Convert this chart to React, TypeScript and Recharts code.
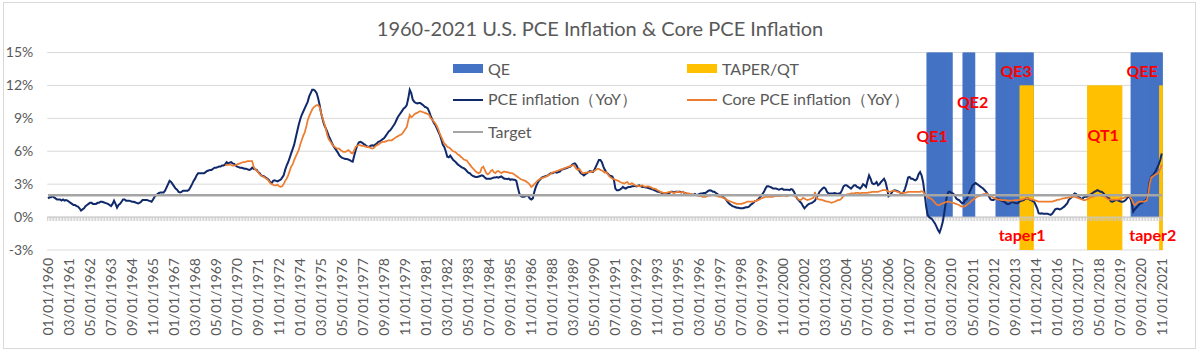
import React from "react";
import {
  ComposedChart,
  Bar,
  Line,
  XAxis,
  YAxis,
  CartesianGrid,
  ReferenceLine,
  ReferenceDot,
} from "recharts";

const FONT = "Lato, 'Liberation Sans', sans-serif";
const TEXT = "#595959";

const START_YEAR = 1960;

// PCE inflation (YoY, %), monthly from 01/1960, one array per decade
const pce1960s = [
  1.7, 1.8, 1.8, 1.9, 1.8, 1.7, 1.6, 1.6, 1.6, 1.5, 1.6, 1.5,
  1.55, 1.5, 1.4, 1.3, 1.2, 1.1, 1.1, 1.0, 0.95, 0.8, 0.6, 0.7,
  0.8, 1.0, 1.1, 1.2, 1.3, 1.3, 1.2, 1.2, 1.2, 1.3, 1.3, 1.4,
  1.4, 1.35, 1.3, 1.25, 1.2, 1.1, 1.0, 1.2, 1.5, 1.2, 0.85, 1.1,
  1.2, 1.4, 1.6, 1.6, 1.5, 1.5, 1.5, 1.45, 1.4, 1.4, 1.35, 1.3,
  1.25, 1.3, 1.4, 1.55, 1.55, 1.55, 1.55, 1.5, 1.45, 1.4, 1.6, 1.85,
  2.0, 2.1, 2.2, 2.25, 2.25, 2.25, 2.4, 2.7, 3.0, 3.3, 3.2, 3.0,
  2.8, 2.6, 2.5, 2.3, 2.25, 2.3, 2.4, 2.4, 2.4, 2.4, 2.5, 2.75,
  3.0, 3.3, 3.5, 3.8, 4.0, 4.0, 4.0, 4.0, 4.0, 4.1, 4.2, 4.25,
  4.3, 4.3, 4.4, 4.5, 4.5, 4.55, 4.6, 4.6, 4.7, 4.7, 4.8, 5.0,
];
const pce1970s = [
  4.9, 4.95, 5.0, 4.9, 4.85, 4.7, 4.6, 4.55, 4.5, 4.5, 4.45, 4.4,
  4.4, 4.35, 4.3, 4.35, 4.5, 4.4, 4.35, 4.3, 4.1, 4.0, 3.8, 3.75,
  3.7, 3.6, 3.5, 3.4, 3.2, 3.1, 3.3, 3.35, 3.3, 3.25, 3.35, 3.4,
  3.6, 3.8, 4.3, 4.7, 5.0, 5.4, 5.8, 6.2, 6.6, 7.2, 7.8, 8.4,
  8.9, 9.3, 9.6, 9.9, 10.2, 10.5, 11.0, 11.3, 11.6, 11.6, 11.5, 11.3,
  10.8, 10.2, 9.45, 8.9, 8.4, 8.1, 7.8, 7.4, 7.1, 6.8, 6.5, 6.3,
  6.1, 5.9, 5.65, 5.5, 5.4, 5.35, 5.3, 5.3, 5.25, 5.2, 5.1, 5.05,
  5.6, 6.1, 6.5, 6.8, 6.85, 6.8, 6.7, 6.6, 6.5, 6.4, 6.4, 6.5,
  6.55, 6.5, 6.6, 6.7, 6.85, 6.9, 7.0, 7.1, 7.2, 7.4, 7.6, 7.8,
  7.9, 8.1, 8.3, 8.5, 8.8, 9.1, 9.3, 9.5, 9.7, 9.9, 10.0, 10.2,
];
const pce1980s = [
  10.8, 11.6, 11.3, 10.7, 10.5, 10.4, 10.35, 10.4, 10.4, 10.3, 10.2, 10.05,
  10.0, 9.9, 9.6, 9.2, 8.9, 8.6, 8.4, 8.1, 7.8, 7.5, 7.1, 6.6,
  6.4, 6.0, 5.5, 5.45, 5.6, 5.4, 5.2, 5.1, 4.95, 4.8, 4.7, 4.6,
  4.5, 4.45, 4.35, 4.2, 4.05, 4.0, 3.85, 3.75, 3.7, 3.65, 3.65, 3.7,
  3.75, 3.8, 3.75, 3.6, 3.5, 3.5, 3.5, 3.5, 3.55, 3.6, 3.6, 3.65,
  3.6, 3.65, 3.7, 3.6, 3.5, 3.5, 3.45, 3.5, 3.4, 3.45, 3.4, 3.4,
  3.3, 2.7, 2.15, 1.9, 1.85, 1.85, 1.9, 2.0, 1.9, 1.7, 1.6, 1.7,
  2.3, 2.75, 3.05, 3.3, 3.45, 3.6, 3.65, 3.7, 3.75, 3.8, 3.9, 4.0,
  4.0, 4.05, 4.1, 4.05, 4.1, 4.15, 4.3, 4.35, 4.4, 4.45, 4.5, 4.55,
  4.6, 4.75, 4.85, 4.9, 4.75, 4.45, 4.2, 4.0, 3.9, 3.8, 3.9, 4.0,
];
const pce1990s = [
  4.1, 4.2, 4.15, 4.1, 4.3, 4.6, 4.9, 5.2, 5.2, 5.0, 4.6, 4.3,
  4.1, 3.95, 3.8, 3.75, 3.7, 3.4, 2.6, 2.45, 2.45, 2.5, 2.6, 2.75,
  2.65, 2.6, 2.7, 2.75, 2.75, 2.8, 2.8, 2.85, 2.8, 2.85, 2.9, 2.8,
  2.75, 2.75, 2.7, 2.7, 2.65, 2.6, 2.55, 2.5, 2.45, 2.4, 2.3, 2.3,
  2.25, 2.2, 2.1, 2.05, 2.1, 2.15, 2.2, 2.3, 2.3, 2.25, 2.3, 2.3,
  2.3, 2.3, 2.25, 2.3, 2.2, 2.15, 2.1, 2.05, 2.0, 2.05, 2.0, 2.1,
  2.0, 2.05, 2.1, 2.15, 2.15, 2.2, 2.2, 2.3, 2.4, 2.45, 2.4, 2.3,
  2.3, 2.2, 2.1, 2.0, 2.0, 1.95, 1.8, 1.7, 1.55, 1.35, 1.2, 1.1,
  1.0, 0.95, 0.9, 0.85, 0.85, 0.8, 0.8, 0.8, 0.85, 0.9, 0.9, 0.95,
  1.1, 1.2, 1.3, 1.45, 1.5, 1.6, 1.75, 1.9, 2.1, 2.3, 2.6, 2.8,
];
const pce2000s = [
  2.8, 2.75, 2.7, 2.6, 2.6, 2.6, 2.55, 2.5, 2.55, 2.6, 2.5, 2.5,
  2.5, 2.5, 2.45, 2.55, 2.5, 2.3, 2.0, 1.7, 1.55, 1.4, 1.25, 1.0,
  0.8, 0.95, 1.1, 1.2, 1.25, 1.3, 1.4, 1.5, 1.8, 2.0, 2.3, 2.45,
  2.6, 2.7, 2.6, 2.3, 2.15, 2.15, 2.15, 2.15, 2.2, 2.15, 2.1, 2.15,
  2.2, 2.45, 2.8, 2.9, 2.9, 2.8, 2.7, 2.6, 2.75, 2.9, 2.9, 2.75,
  2.7, 2.6, 2.75, 3.0, 2.9, 2.75, 3.3, 3.8, 3.5, 3.1, 3.0, 3.05,
  3.2, 2.9, 3.0, 3.2, 3.35, 3.5, 3.2, 2.6, 1.9, 2.0, 2.2, 2.4,
  2.45, 2.4, 2.35, 2.3, 2.2, 2.15, 2.3, 2.6, 3.05, 3.6, 3.65, 3.5,
  3.5, 3.4, 3.35, 3.5, 3.9, 4.1, 3.8, 3.2, 2.15, 1.0, 0.2, 0.0,
  -0.1, -0.2, -0.4, -0.6, -0.9, -1.2, -1.4, -1.0, -0.5, 0.3, 1.2, 2.0,
];
const pce2010s = [
  2.3, 2.3, 2.2, 2.15, 2.0, 1.7, 1.6, 1.55, 1.4, 1.25, 1.3, 1.55,
  1.6, 1.9, 2.3, 2.6, 2.9, 3.0, 3.1, 3.0, 2.9, 2.8, 2.7, 2.6,
  2.45, 2.3, 2.1, 1.85, 1.6, 1.55, 1.55, 1.7, 1.7, 1.65, 1.6, 1.5,
  1.45, 1.4, 1.3, 1.2, 1.2, 1.25, 1.4, 1.35, 1.3, 1.25, 1.25, 1.4,
  1.45, 1.5, 1.55, 1.65, 1.7, 1.7, 1.6, 1.55, 1.45, 1.4, 1.1, 0.8,
  0.35, 0.3, 0.35, 0.3, 0.3, 0.3, 0.3, 0.25, 0.2, 0.3, 0.5, 0.7,
  0.75, 0.75, 0.7, 0.75, 0.85, 0.95, 1.1, 1.25, 1.55, 1.7, 1.8, 2.0,
  2.15, 2.1, 1.9, 1.8, 1.7, 1.65, 1.8, 1.85, 1.85, 1.95, 2.0, 2.1,
  2.2, 2.3, 2.35, 2.45, 2.4, 2.3, 2.3, 2.2, 2.05, 1.9, 1.75, 1.7,
  1.45, 1.4, 1.45, 1.55, 1.55, 1.5, 1.45, 1.4, 1.4, 1.45, 1.55, 1.75,
];
const pce2020s = [
  1.85, 1.75, 1.3, 0.5, 0.7, 0.85, 1.0, 1.15, 1.25, 1.3, 1.45, 1.5,
  1.6, 2.3, 3.2, 3.7, 3.8, 4.0, 4.2, 4.5, 4.8, 5.2, 5.8,
];

// Core PCE inflation (YoY, %), monthly from 11/1969
const CORE_START = "11/01/1969";
const core1960s = [4.7, 4.75];
const core1970s = [
  4.75, 4.8, 4.75, 4.7, 4.7, 4.75, 4.8, 4.85, 4.9, 4.95, 5.0, 5.0,
  5.05, 5.1, 5.1, 5.1, 5.1, 4.6, 4.35, 4.25, 4.1, 3.9, 3.8, 3.7,
  3.65, 3.55, 3.45, 3.3, 3.1, 3.0, 2.95, 2.9, 2.9, 2.95, 2.8, 2.75,
  2.8, 3.0, 3.3, 3.5, 3.8, 4.2, 4.6, 4.8, 5.2, 5.5, 5.8, 6.1,
  6.6, 7.0, 7.4, 7.7, 8.2, 8.8, 9.2, 9.5, 9.8, 10.0, 10.1, 10.2,
  10.2, 10.0, 9.45, 9.0, 8.55, 8.1, 7.5, 7.1, 6.9, 6.7, 6.5, 6.4,
  6.3, 6.25, 6.25, 6.1, 6.0, 5.95, 5.95, 6.0, 6.1, 6.0, 5.85, 5.8,
  6.1, 6.4, 6.5, 6.55, 6.55, 6.5, 6.5, 6.45, 6.4, 6.4, 6.35, 6.3,
  6.25, 6.3, 6.45, 6.55, 6.6, 6.7, 6.8, 6.85, 6.85, 6.9, 6.95, 7.0,
  7.0, 7.0, 7.1, 7.2, 7.3, 7.35, 7.45, 7.5, 7.6, 7.8, 8.0, 8.2,
];
const core1980s = [
  8.8, 9.3, 9.1, 9.2, 9.35, 9.45, 9.5, 9.6, 9.65, 9.6, 9.55, 9.5,
  9.45, 9.4, 9.3, 9.0, 8.9, 8.7, 8.55, 8.3, 8.0, 7.6, 7.3, 7.0,
  6.7, 6.6, 6.4, 6.35, 6.25, 6.1, 6.0, 5.95, 5.85, 5.7, 5.65, 5.5,
  5.4, 5.25, 5.2, 5.15, 4.95, 4.8, 4.6, 4.45, 4.3, 4.15, 4.05, 4.0,
  4.1, 4.5, 4.6, 4.3, 4.0, 3.9, 4.0, 4.2, 4.3, 4.1, 4.0, 4.15,
  4.2, 4.1, 4.0, 4.1, 4.15, 4.1, 4.1, 4.05, 4.0, 4.0, 3.95, 3.85,
  3.75, 3.65, 3.55, 3.45, 3.4, 3.35, 3.3, 3.2, 3.1, 2.95, 2.75, 2.85,
  3.0, 3.15, 3.3, 3.4, 3.5, 3.55, 3.6, 3.65, 3.7, 3.8, 3.85, 3.95,
  4.05, 4.1, 4.15, 4.2, 4.25, 4.3, 4.35, 4.4, 4.45, 4.5, 4.55, 4.6,
  4.65, 4.7, 4.75, 4.6, 4.4, 4.3, 4.4, 4.2, 4.0, 4.0, 4.05, 4.05,
];
const core1990s = [
  4.1, 4.1, 4.15, 4.15, 4.2, 4.3, 4.4, 4.4, 4.3, 4.25, 4.15, 4.05,
  4.1, 3.9, 3.7, 3.6, 3.5, 3.45, 3.4, 3.35, 3.3, 3.2, 3.15, 3.1,
  3.05, 3.15, 3.2, 3.0, 3.0, 3.1, 3.0, 2.9, 2.85, 2.85, 2.8, 2.85,
  2.9, 2.8, 2.75, 2.8, 2.8, 2.75, 2.7, 2.6, 2.6, 2.55, 2.45, 2.4,
  2.3, 2.25, 2.2, 2.2, 2.2, 2.25, 2.3, 2.3, 2.25, 2.2, 2.25, 2.3,
  2.3, 2.25, 2.25, 2.3, 2.2, 2.15, 2.15, 2.15, 2.1, 2.1, 2.05, 2.0,
  2.0, 1.95, 1.9, 1.9, 1.85, 1.85, 1.85, 1.9, 1.95, 1.95, 2.0, 2.0,
  2.0, 1.95, 1.9, 1.85, 1.85, 1.8, 1.75, 1.7, 1.6, 1.5, 1.45, 1.4,
  1.35, 1.3, 1.25, 1.2, 1.2, 1.2, 1.2, 1.25, 1.3, 1.35, 1.4, 1.4,
  1.4, 1.4, 1.4, 1.45, 1.5, 1.55, 1.6, 1.7, 1.75, 1.8, 1.85, 1.85,
];
const core2000s = [
  1.85, 1.85, 1.85, 1.85, 1.9, 1.9, 1.9, 1.9, 1.9, 1.95, 1.95, 1.95,
  1.9, 1.95, 2.0, 2.0, 2.0, 1.95, 1.85, 1.75, 1.6, 1.55, 1.6, 1.75,
  1.7, 1.6, 1.55, 1.6, 1.65, 1.7, 1.75, 2.3, 1.7, 1.65, 1.6, 1.6,
  1.55, 1.5, 1.45, 1.4, 1.4, 1.35, 1.3, 1.35, 1.4, 1.45, 1.55, 1.55,
  1.6, 1.75, 1.95, 2.0, 2.05, 2.1, 2.1, 2.15, 2.15, 2.15, 2.2, 2.2,
  2.2, 2.15, 2.2, 2.2, 2.2, 2.2, 2.2, 2.25, 2.25, 2.3, 2.3, 2.3,
  2.3, 2.3, 2.35, 2.4, 2.45, 2.45, 2.45, 2.4, 2.3, 2.3, 2.35, 2.4,
  2.4, 2.35, 2.3, 2.25, 2.2, 2.2, 2.2, 2.2, 2.25, 2.3, 2.3, 2.3,
  2.3, 2.3, 2.3, 2.3, 2.3, 2.3, 2.35, 2.3, 2.1, 2.0, 1.85, 1.75,
  1.7, 1.6, 1.45, 1.3, 1.15, 1.1, 1.1, 1.2, 1.25, 1.3, 1.35, 1.4,
];
const core2010s = [
  1.4, 1.35, 1.35, 1.3, 1.25, 1.2, 1.15, 1.1, 1.0, 0.95, 0.95, 1.0,
  1.1, 1.2, 1.3, 1.45, 1.55, 1.65, 1.75, 1.85, 1.9, 1.95, 2.0, 2.1,
  2.1, 2.15, 2.1, 2.0, 1.9, 1.85, 1.75, 1.7, 1.65, 1.6, 1.6, 1.55,
  1.55, 1.55, 1.55, 1.5, 1.5, 1.5, 1.5, 1.5, 1.55, 1.55, 1.55, 1.55,
  1.6, 1.6, 1.65, 1.7, 1.7, 1.7, 1.65, 1.6, 1.6, 1.55, 1.5, 1.45,
  1.4, 1.4, 1.4, 1.4, 1.4, 1.4, 1.4, 1.4, 1.4, 1.4, 1.45, 1.5,
  1.55, 1.6, 1.6, 1.65, 1.7, 1.7, 1.75, 1.75, 1.8, 1.8, 1.85, 1.85,
  1.85, 1.8, 1.75, 1.7, 1.65, 1.6, 1.55, 1.55, 1.6, 1.65, 1.75, 1.85,
  1.85, 1.9, 1.95, 2.0, 2.0, 2.0, 1.95, 1.9, 1.85, 1.75, 1.65, 1.6,
  1.6, 1.6, 1.6, 1.6, 1.6, 1.6, 1.65, 1.7, 1.7, 1.75, 1.85, 1.95,
];
const core2020s = [
  1.95, 1.8, 1.6, 1.25, 1.1, 1.2, 1.35, 1.4, 1.4, 1.4, 1.4, 1.45,
  1.5, 2.1, 3.0, 3.6, 3.7, 3.8, 3.9, 3.95, 4.1, 4.4, 4.8,
];

const TARGET_RATE = 2;

const qePeriods = [
  { from: "11/01/2008", to: "03/01/2010" },
  { from: "11/01/2010", to: "06/01/2011" },
  { from: "09/01/2012", to: "09/01/2014" },
  { from: "03/01/2020", to: "11/01/2021" },
];
const taperPeriods = [
  { from: "01/01/2014", to: "09/01/2014" },
  { from: "10/01/2017", to: "08/01/2019" },
  { from: "10/01/2021", to: "11/01/2021" },
];
const QE_SPAN = [0, 15];
const TAPER_SPAN = [-3, 12];

const callouts = [
  { text: "QE1", date: "02/01/2009", level: 7.4 },
  { text: "QE2", date: "05/01/2011", level: 10.5 },
  { text: "QE3", date: "10/01/2013", level: 13.3 },
  { text: "QEE", date: "10/01/2020", level: 13.25 },
  { text: "QT1", date: "08/01/2018", level: 7.45 },
  { text: "taper1", date: "02/01/2014", level: -1.7 },
  { text: "taper2", date: "05/01/2021", level: -1.7 },
];

const pce = [...pce1960s, ...pce1970s, ...pce1980s, ...pce1990s, ...pce2000s, ...pce2010s, ...pce2020s];
const core = [...core1960s, ...core1970s, ...core1980s, ...core1990s, ...core2000s, ...core2010s, ...core2020s];

const pad = (n: number) => String(n).padStart(2, "0");
const dates = pce.map((_, i) => `${pad((i % 12) + 1)}/01/${START_YEAR + Math.floor(i / 12)}`);
const coreOffset = dates.indexOf(CORE_START);
const within = (i: number, periods: { from: string; to: string }[]) =>
  periods.some((p) => i >= dates.indexOf(p.from) && i <= dates.indexOf(p.to));

const data = dates.map((date, i) => ({
  date,
  qe: within(i, qePeriods) ? QE_SPAN : null,
  taper: within(i, taperPeriods) ? TAPER_SPAN : null,
  pce: pce[i],
  core: i >= coreOffset ? core[i - coreOffset] ?? null : null,
  target: TARGET_RATE,
}));

const W = 1200;
const H = 353;
const MARGIN = { top: 52.5, right: 37.5, bottom: 0, left: 0 };
const Y_AXIS_W = 47.25;
const PLOT_W = W - MARGIN.right - MARGIN.left - Y_AXIS_W;
const BAR_W = PLOT_W / data.length - 0.01;

// adjacent month columns overlap slightly so a period reads as one solid block
const SolidColumn = (props: any) => {
  const { x, y, width, height, fill } = props;
  if (height == null || width == null) return null;
  return <rect x={x - 0.4} y={y} width={width + 0.8} height={height} fill={fill} />;
};

const DateTick = (props: any) => {
  const { x, y, payload } = props;
  return (
    <text
      x={x}
      y={y}
      transform={`rotate(-90 ${x} ${y})`}
      textAnchor="end"
      dy="0.35em"
      fill={TEXT}
      fontSize={14}
      fontFamily={FONT}
    >
      {payload.value}
    </text>
  );
};

const legendRows = [
  [
    { name: "QE", color: "#4472c4", box: true },
    { name: "TAPER/QT", color: "#ffc000", box: true },
  ],
  [
    { name: "PCE inflation（YoY）", color: "#10296a", box: false },
    { name: "Core PCE inflation（YoY）", color: "#ed7d31", box: false },
  ],
  [{ name: "Target", color: "#a5a5a5", box: false }],
];

function ChartLegend() {
  return (
    <div style={{ position: "absolute", left: 453, top: 53, fontFamily: FONT, fontSize: 16, color: TEXT }}>
      {legendRows.map((row, r) => (
        <div key={r} style={{ display: "flex", height: 31.5, alignItems: "center" }}>
          {row.map((item) => (
            <div key={item.name} style={{ width: 234, display: "flex", alignItems: "center" }}>
              <span
                style={{
                  display: "inline-block",
                  width: 30,
                  height: item.box ? 9 : item.name === "Target" ? 2.5 : 2,
                  background: item.color,
                  marginRight: 5,
                }}
              />
              <span style={{ whiteSpace: "nowrap" }}>{item.name}</span>
            </div>
          ))}
        </div>
      ))}
    </div>
  );
}

export default function App() {
  return (
    <div style={{ position: "absolute", left: 0, top: 0, width: W, height: H, background: "#fff", overflow: "hidden" }}>
      <div
        style={{
          position: "absolute",
          left: 3,
          top: 2,
          width: 1193,
          height: 347,
          border: "1px solid #d9d9d9",
          boxSizing: "border-box",
        }}
      />
      <div
        style={{
          position: "absolute",
          top: 16,
          left: 0,
          width: W,
          textAlign: "center",
          fontFamily: FONT,
          fontSize: 20,
          lineHeight: "24px",
          color: TEXT,
        }}
      >
        1960-2021 U.S. PCE Inflation &amp; Core PCE Inflation
      </div>
      <div style={{ position: "absolute", left: 0, top: 0 }}>
        <ComposedChart width={W} height={H} data={data} margin={MARGIN} barCategoryGap={0} barGap={0}>
          <CartesianGrid vertical={false} stroke="#d9d9d9" />
          <XAxis
            dataKey="date"
            interval={13}
            tickLine={false}
            axisLine={false}
            height={103}
            tick={<DateTick />}
          />
          <XAxis xAxisId="qe" dataKey="date" hide />
          <XAxis xAxisId="taper" dataKey="date" hide />
          <YAxis
            domain={[-3, 15]}
            ticks={[-3, 0, 3, 6, 9, 12, 15]}
            width={Y_AXIS_W}
            axisLine={false}
            tickLine={false}
            tickMargin={8}
            tick={{ fill: TEXT, fontSize: 14, fontFamily: FONT }}
            tickFormatter={(v: number) => `${v}%`}
          />
          <ReferenceLine y={0} stroke="#c8c8c8" strokeWidth={1} />
          <ReferenceLine y={-0.18} stroke="#c8c8c8" strokeWidth={4} strokeDasharray="0.75 0.75" />
          <Bar
            xAxisId="qe"
            dataKey="qe"
            name="QE"
            fill="#4472c4"
            barSize={BAR_W}
            shape={<SolidColumn />}
            isAnimationActive={false}
          />
          <Bar
            xAxisId="taper"
            dataKey="taper"
            name="TAPER/QT"
            fill="#ffc000"
            barSize={BAR_W}
            shape={<SolidColumn />}
            isAnimationActive={false}
          />
          <Line
            dataKey="pce"
            name="PCE inflation（YoY）"
            stroke="#10296a"
            strokeWidth={2}
            dot={false}
            activeDot={false}
            isAnimationActive={false}
          />
          <Line
            dataKey="core"
            name="Core PCE inflation（YoY）"
            stroke="#ed7d31"
            strokeWidth={1.75}
            dot={false}
            activeDot={false}
            isAnimationActive={false}
          />
          <Line
            dataKey="target"
            name="Target"
            stroke="#a5a5a5"
            strokeWidth={2.5}
            dot={false}
            activeDot={false}
            isAnimationActive={false}
          />
          {callouts.map((c) => (
            <ReferenceDot
              key={c.text}
              x={c.date}
              y={c.level}
              r={1}
              fill="none"
              stroke="none"
              label={{
                value: c.text,
                position: "center",
                fill: "#ff0000",
                fontSize: 16,
                fontWeight: 700,
                fontFamily: FONT,
              }}
            />
          ))}
        </ComposedChart>
      </div>
      <ChartLegend />
    </div>
  );
}
